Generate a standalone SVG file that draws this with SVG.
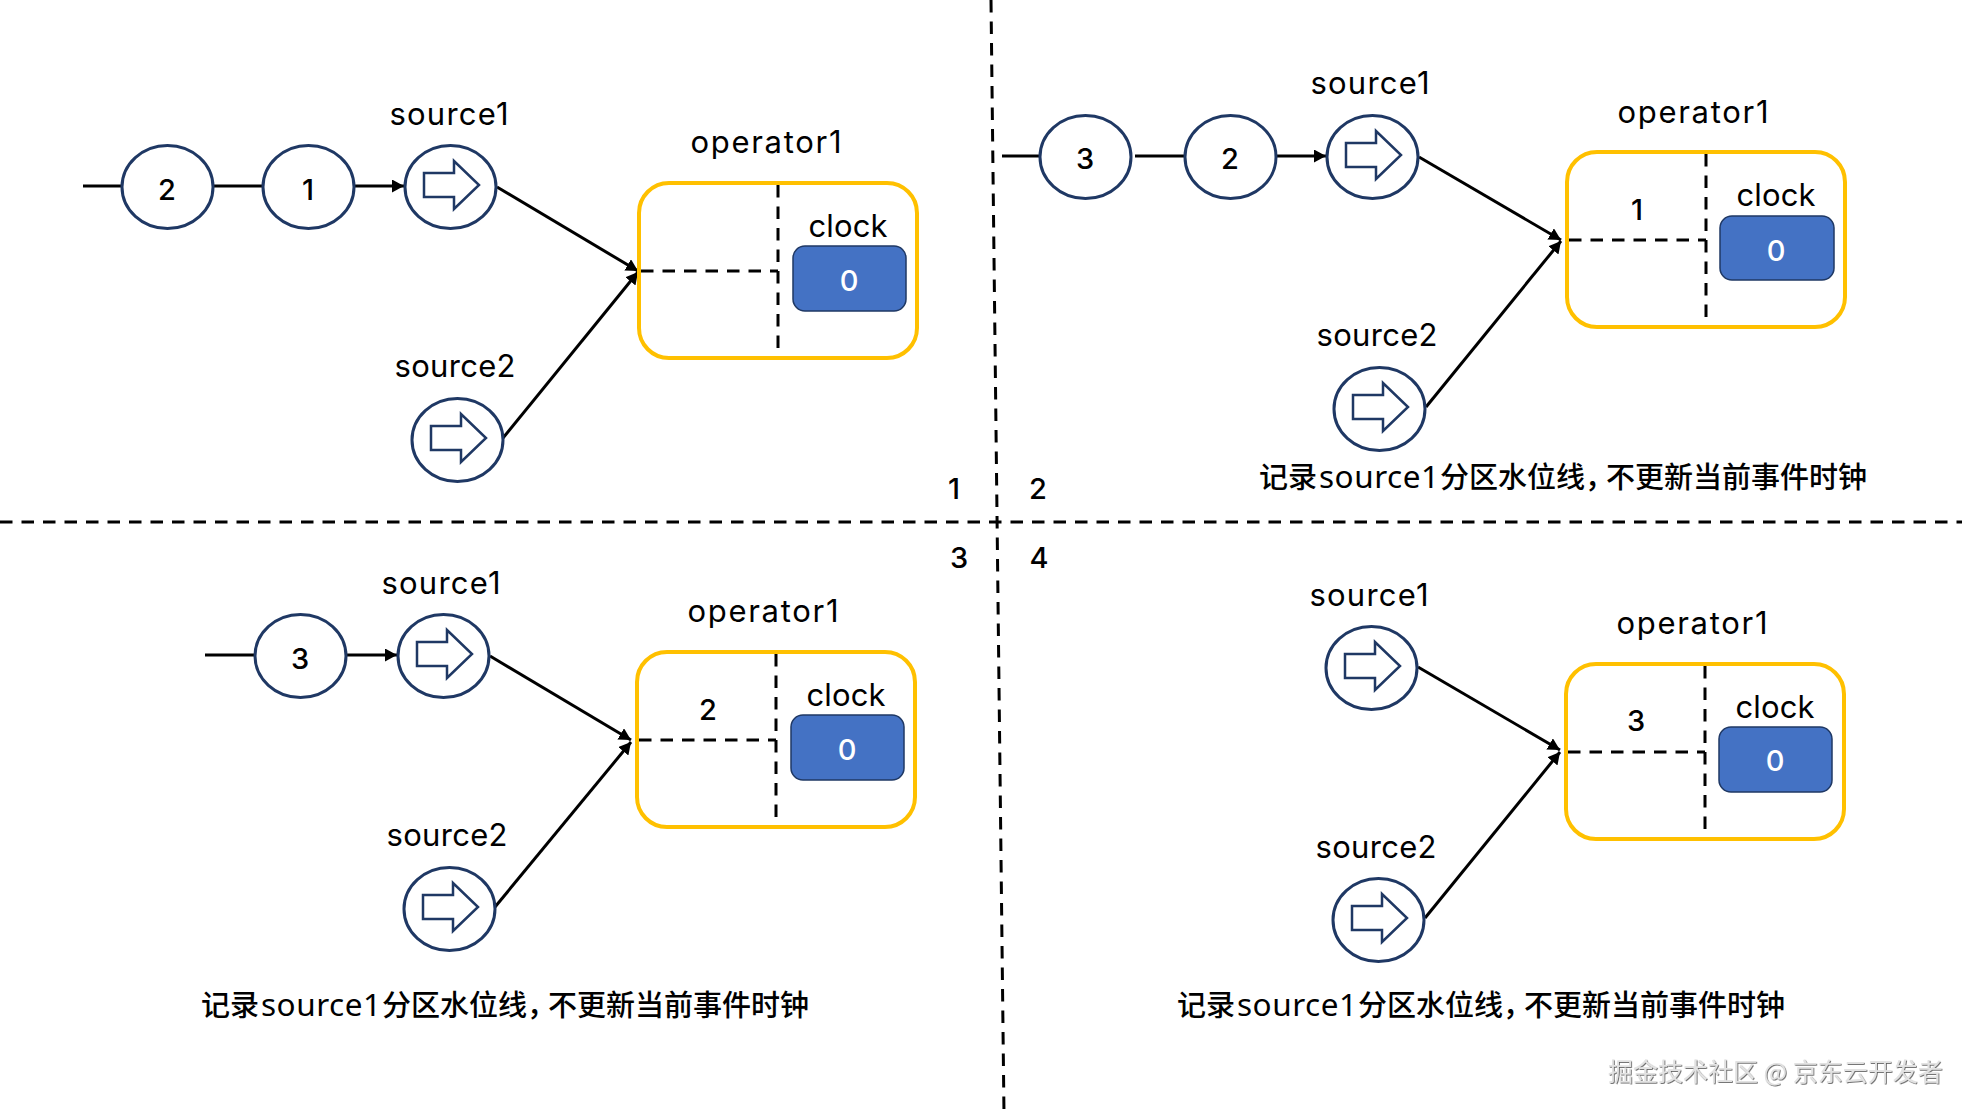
<svg xmlns="http://www.w3.org/2000/svg" xmlns:xlink="http://www.w3.org/1999/xlink" width="1972" height="1114" viewBox="0 0 1972 1114">
<style>
text{font-family:"Inter","Noto Sans","Noto Sans CJK SC",sans-serif;fill:#000}
.lb{font-size:31px;text-anchor:middle;transform:translateY(1px)}
.num{font-size:29px;font-weight:500;text-anchor:middle;transform:translateY(1px)}
.zero{font-size:29px;font-weight:500;text-anchor:middle;fill:#fff}
.cap{font-family:"Noto Sans","Noto Sans CJK SC",sans-serif;font-size:29px;font-weight:500;transform:translateY(1px)}
.cap tspan.l{font-size:31.5px;font-weight:400}
.wm{font-family:"Noto Sans CJK SC",sans-serif;font-size:25px;fill:#e2e2e2;filter:url(#emboss)}
.c{fill:#fff;stroke:#1f3864;stroke-width:3}
.ar{fill:#fff;stroke:#1f3864;stroke-width:2.5}
.op{fill:#fff;stroke:#ffc000;stroke-width:4}
.clk{fill:#4472c4;stroke:#1f3864;stroke-width:1.5}
.ln{stroke:#000;stroke-width:3;fill:none}
.arw{stroke:#000;stroke-width:3;fill:none;marker-end:url(#tip)}
.d{stroke:#000;stroke-width:3;fill:none;stroke-dasharray:12.5 9}
</style>
<defs>
<marker id="tip" markerUnits="userSpaceOnUse" markerWidth="14" markerHeight="14" refX="12" refY="6.5" orient="auto"><path d="M0 0L12 6.5L0 13Z" fill="#000"/></marker>
<filter id="emboss" x="-5%" y="-20%" width="110%" height="140%"><feDropShadow dx="0.8" dy="0.8" stdDeviation="0.5" flood-color="#555"/></filter>
<polygon id="icon" class="ar" points="-26,-13 4,-13 4,-25 29,-1 4,23 4,11 -26,11"/>
<g id="opbody">
<rect class="op" x="1" y="1" width="278" height="175" rx="30"/>
<path class="d" d="M140 3V171"/>
<path class="d" d="M3 89H140"/>
</g>
</defs>

<g id="dividers">
<path class="d" d="M0 522H1962"/>
<path class="d" d="M991 0L1004 1114"/>
</g>

<g id="connectors">
<path class="ln" d="M83 186H121M213 186H262"/>
<path class="arw" d="M354 186H404"/>
<path class="arw" d="M497 187L638 271"/>
<path class="arw" d="M503 438L638 272"/>
<path class="ln" d="M1002 156H1039M1135 156H1184"/>
<path class="arw" d="M1276 156H1326"/>
<path class="arw" d="M1419 157L1561 240"/>
<path class="arw" d="M1426 407L1561 241"/>
<path class="ln" d="M205 655H254"/>
<path class="arw" d="M346 655H397"/>
<path class="arw" d="M490 656L631 740"/>
<path class="arw" d="M495 907L631 742"/>
<path class="arw" d="M1418 667L1560 750"/>
<path class="arw" d="M1425 918L1560 752"/>
</g>

<g id="quadrant-numbers">
<text class="num" x="954" y="498">1</text>
<text class="num" x="1038" y="498">2</text>
<text class="num" x="959" y="567">3</text>
<text class="num" x="1039" y="567">4</text>
</g>

<g id="p1-event2"><ellipse class="c" cx="167.5" cy="187" rx="45.5" ry="41.5"/><text class="num" x="167" y="199">2</text></g>
<g id="p1-event1"><ellipse class="c" cx="308.5" cy="187" rx="45.5" ry="41.5"/><text class="num" x="308" y="199">1</text></g>
<g id="p1-source1"><ellipse class="c" cx="450.5" cy="187" rx="45.5" ry="41.5"/><use xlink:href="#icon" x="450" y="186"/><text class="lb" x="449" y="124" textLength="119">source1</text></g>
<g id="p1-source2"><ellipse class="c" cx="457.5" cy="440" rx="45.5" ry="41.5"/><use xlink:href="#icon" x="457" y="439"/><text class="lb" x="455" y="376" textLength="121">source2</text></g>
<g id="p1-operator1"><use xlink:href="#opbody" x="638" y="182"/><text class="lb" x="766" y="152" textLength="151">operator1</text><text class="lb" x="848" y="236" textLength="79">clock</text><rect class="clk" x="793" y="246" width="113" height="65" rx="12"/><text class="zero" x="849" y="291">0</text></g>

<g id="p2-event3"><ellipse class="c" cx="1085.5" cy="157" rx="45.5" ry="41.5"/><text class="num" x="1085" y="168">3</text></g>
<g id="p2-event2"><ellipse class="c" cx="1230.5" cy="157" rx="45.5" ry="41.5"/><text class="num" x="1230" y="168">2</text></g>
<g id="p2-source1"><ellipse class="c" cx="1372.5" cy="157" rx="45.5" ry="41.5"/><use xlink:href="#icon" x="1372" y="156"/><text class="lb" x="1370" y="93" textLength="119">source1</text></g>
<g id="p2-source2"><ellipse class="c" cx="1379.5" cy="409" rx="45.5" ry="41.5"/><use xlink:href="#icon" x="1379" y="408"/><text class="lb" x="1377" y="345" textLength="121">source2</text></g>
<g id="p2-operator1"><use xlink:href="#opbody" x="1566" y="151"/><text class="lb" x="1693" y="122" textLength="151">operator1</text><text class="num" x="1637" y="219">1</text><text class="lb" x="1776" y="205" textLength="79">clock</text><rect class="clk" x="1720" y="216" width="114" height="64" rx="12"/><text class="zero" x="1776" y="261">0</text></g>
<text id="p2-caption" class="cap" y="487"><tspan x="1259">记录</tspan><tspan class="l" x="1319" textLength="120">source1</tspan><tspan x="1440">分区水位线，</tspan><tspan x="1606">不更新当前事件时钟</tspan></text>

<g id="p3-event3"><ellipse class="c" cx="300.5" cy="656" rx="45.5" ry="41.5"/><text class="num" x="300" y="668">3</text></g>
<g id="p3-source1"><ellipse class="c" cx="443.5" cy="656" rx="45.5" ry="41.5"/><use xlink:href="#icon" x="443" y="655"/><text class="lb" x="441" y="593" textLength="119">source1</text></g>
<g id="p3-source2"><ellipse class="c" cx="449.5" cy="909" rx="45.5" ry="41.5"/><use xlink:href="#icon" x="449" y="908"/><text class="lb" x="447" y="845" textLength="121">source2</text></g>
<g id="p3-operator1"><use xlink:href="#opbody" x="636" y="651"/><text class="lb" x="763" y="621" textLength="151">operator1</text><text class="num" x="708" y="719">2</text><text class="lb" x="846" y="705" textLength="79">clock</text><rect class="clk" x="791" y="715" width="113" height="65" rx="12"/><text class="zero" x="847" y="760">0</text></g>
<text id="p3-caption" class="cap" y="1015"><tspan x="201">记录</tspan><tspan class="l" x="261" textLength="120">source1</tspan><tspan x="382">分区水位线，</tspan><tspan x="548">不更新当前事件时钟</tspan></text>

<g id="p4-source1"><ellipse class="c" cx="1371.5" cy="668" rx="45.5" ry="41.5"/><use xlink:href="#icon" x="1371" y="667"/><text class="lb" x="1369" y="605" textLength="119">source1</text></g>
<g id="p4-source2"><ellipse class="c" cx="1378.5" cy="920" rx="45.5" ry="41.5"/><use xlink:href="#icon" x="1378" y="919"/><text class="lb" x="1376" y="857" textLength="121">source2</text></g>
<g id="p4-operator1"><use xlink:href="#opbody" x="1565" y="663"/><text class="lb" x="1692" y="633" textLength="151">operator1</text><text class="num" x="1636" y="730">3</text><text class="lb" x="1775" y="717" textLength="79">clock</text><rect class="clk" x="1719" y="727" width="113" height="65" rx="12"/><text class="zero" x="1775" y="771">0</text></g>
<text id="p4-caption" class="cap" y="1015"><tspan x="1177">记录</tspan><tspan class="l" x="1237" textLength="120">source1</tspan><tspan x="1358">分区水位线，</tspan><tspan x="1524">不更新当前事件时钟</tspan></text>

<text id="watermark" class="wm" x="1608" y="1081">掘金技术社区 @ 京东云开发者</text>
</svg>
